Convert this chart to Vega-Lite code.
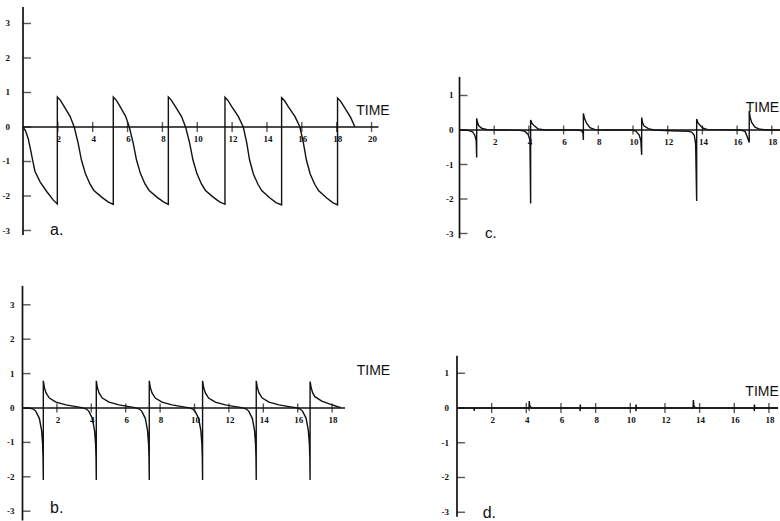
{
  "$schema": "https://vega.github.io/schema/vega-lite/v6.json",
  "padding": 0,
  "background": "white",
  "spacing": 0,
  "config": {"view": {"stroke": null}, "concat": {"spacing": 0}},
  "datasets": {
    "curveA": [
      {"t":0,"v":0},{"t":0.15,"v":-0.12},{"t":0.3,"v":-0.34},{"t":0.46,"v":-0.72},{"t":0.56,"v":-0.98},{"t":0.69,"v":-1.29},{"t":0.98,"v":-1.59},{"t":1.36,"v":-1.87},{"t":1.74,"v":-2.12},{"t":1.97,"v":-2.23},
      {"t":1.97,"v":0.87},{"t":2.14,"v":0.78},{"t":2.34,"v":0.61},{"t":2.7,"v":0.31},{"t":2.94,"v":0},{"t":3.16,"v":-0.46},{"t":3.35,"v":-0.95},{"t":3.58,"v":-1.35},{"t":3.84,"v":-1.65},{"t":4.07,"v":-1.84},{"t":4.53,"v":-2.04},{"t":4.88,"v":-2.17},{"t":5.18,"v":-2.24},
      {"t":5.18,"v":0.87},{"t":5.35,"v":0.78},{"t":5.55,"v":0.61},{"t":5.89,"v":0.31},{"t":6.1,"v":0},{"t":6.32,"v":-0.46},{"t":6.51,"v":-0.95},{"t":6.74,"v":-1.35},{"t":7.0,"v":-1.65},{"t":7.24,"v":-1.84},{"t":7.7,"v":-2.04},{"t":8.06,"v":-2.17},{"t":8.34,"v":-2.24},
      {"t":8.34,"v":0.87},{"t":8.51,"v":0.78},{"t":8.72,"v":0.61},{"t":9.09,"v":0.31},{"t":9.33,"v":0},{"t":9.56,"v":-0.46},{"t":9.75,"v":-0.95},{"t":9.98,"v":-1.35},{"t":10.24,"v":-1.65},{"t":10.47,"v":-1.84},{"t":10.93,"v":-2.04},{"t":11.28,"v":-2.17},{"t":11.59,"v":-2.24},
      {"t":11.59,"v":0.86},{"t":11.76,"v":0.77},{"t":11.97,"v":0.6},{"t":12.36,"v":0.3},{"t":12.64,"v":0},{"t":12.84,"v":-0.46},{"t":13.0,"v":-0.95},{"t":13.22,"v":-1.36},{"t":13.48,"v":-1.66},{"t":13.71,"v":-1.85},{"t":14.17,"v":-2.06},{"t":14.52,"v":-2.19},{"t":14.84,"v":-2.26},
      {"t":14.84,"v":0.85},{"t":15.01,"v":0.76},{"t":15.22,"v":0.59},{"t":15.61,"v":0.3},{"t":15.89,"v":0},{"t":16.09,"v":-0.46},{"t":16.26,"v":-0.95},{"t":16.48,"v":-1.36},{"t":16.74,"v":-1.66},{"t":16.97,"v":-1.85},{"t":17.43,"v":-2.06},{"t":17.77,"v":-2.19},{"t":18.05,"v":-2.26},
      {"t":18.05,"v":0.84},{"t":18.22,"v":0.75},{"t":18.43,"v":0.58},{"t":18.8,"v":0.28},{"t":19.05,"v":0}
    ],
    "curveB": [
      {"t":0,"v":0},{"t":0.45,"v":-0.01},{"t":0.63,"v":-0.03},{"t":0.77,"v":-0.09},{"t":0.98,"v":-0.3},{"t":1.11,"v":-0.66},{"t":1.17,"v":-1.05},{"t":1.195,"v":-1.45},{"t":1.21,"v":-2.09},
      {"t":1.21,"v":0.79},{"t":1.27,"v":0.6},{"t":1.37,"v":0.44},{"t":1.56,"v":0.29},{"t":1.95,"v":0.17},{"t":2.53,"v":0.09},{"t":3.11,"v":0.04},{"t":3.45,"v":0.01},{"t":3.6,"v":-0.01},{"t":3.71,"v":-0.03},{"t":3.85,"v":-0.09},{"t":4.06,"v":-0.3},{"t":4.19,"v":-0.66},{"t":4.25,"v":-1.05},{"t":4.275,"v":-1.45},{"t":4.29,"v":-2.09},
      {"t":4.29,"v":0.79},{"t":4.35,"v":0.6},{"t":4.45,"v":0.44},{"t":4.64,"v":0.29},{"t":5.03,"v":0.17},{"t":5.61,"v":0.09},{"t":6.19,"v":0.04},{"t":6.53,"v":0.01},{"t":6.68,"v":-0.01},{"t":6.79,"v":-0.03},{"t":6.93,"v":-0.09},{"t":7.14,"v":-0.3},{"t":7.27,"v":-0.66},{"t":7.33,"v":-1.05},{"t":7.355,"v":-1.45},{"t":7.37,"v":-2.09},
      {"t":7.37,"v":0.79},{"t":7.43,"v":0.6},{"t":7.53,"v":0.44},{"t":7.72,"v":0.29},{"t":8.11,"v":0.17},{"t":8.69,"v":0.09},{"t":9.27,"v":0.04},{"t":9.63,"v":0.01},{"t":9.78,"v":-0.01},{"t":9.89,"v":-0.03},{"t":10.03,"v":-0.09},{"t":10.24,"v":-0.3},{"t":10.37,"v":-0.66},{"t":10.43,"v":-1.05},{"t":10.455,"v":-1.45},{"t":10.47,"v":-2.09},
      {"t":10.47,"v":0.79},{"t":10.53,"v":0.6},{"t":10.63,"v":0.44},{"t":10.82,"v":0.29},{"t":11.21,"v":0.17},{"t":11.79,"v":0.09},{"t":12.37,"v":0.04},{"t":12.75,"v":0.01},{"t":12.9,"v":-0.01},{"t":13.01,"v":-0.03},{"t":13.15,"v":-0.09},{"t":13.36,"v":-0.3},{"t":13.49,"v":-0.66},{"t":13.55,"v":-1.05},{"t":13.575,"v":-1.45},{"t":13.59,"v":-2.09},
      {"t":13.59,"v":0.79},{"t":13.65,"v":0.6},{"t":13.75,"v":0.44},{"t":13.94,"v":0.29},{"t":14.33,"v":0.17},{"t":14.91,"v":0.09},{"t":15.49,"v":0.04},{"t":15.88,"v":0.01},{"t":16.03,"v":-0.01},{"t":16.14,"v":-0.03},{"t":16.28,"v":-0.09},{"t":16.49,"v":-0.3},{"t":16.62,"v":-0.66},{"t":16.68,"v":-1.05},{"t":16.705,"v":-1.45},{"t":16.72,"v":-2.09},
      {"t":16.72,"v":0.77},{"t":16.78,"v":0.6},{"t":16.87,"v":0.44},{"t":17.0,"v":0.33},{"t":17.4,"v":0.2},{"t":17.88,"v":0.11},{"t":18.37,"v":0.03},{"t":18.5,"v":0.02}
    ],
    "curveC": [
      {"t":0,"v":0},{"t":0.5,"v":-0.01},{"t":0.75,"v":-0.05},{"t":0.88,"v":-0.15},{"t":0.96,"v":-0.3},{"t":0.99,"v":-0.8},{"t":0.99,"v":0.34},{"t":1.03,"v":0.23},{"t":1.1,"v":0.13},{"t":1.28,"v":0.05},{"t":1.6,"v":0.01},{"t":2.5,"v":0},
      {"t":3.5,"v":-0.01},{"t":3.78,"v":-0.04},{"t":3.96,"v":-0.13},{"t":4.06,"v":-0.3},{"t":4.1,"v":-2.13},{"t":4.1,"v":0.29},{"t":4.17,"v":0.2},{"t":4.31,"v":0.12},{"t":4.54,"v":0.03},{"t":4.9,"v":0},
      {"t":6.8,"v":0},{"t":7.05,"v":-0.02},{"t":7.12,"v":-0.1},{"t":7.14,"v":-0.29},{"t":7.14,"v":0.48},{"t":7.2,"v":0.35},{"t":7.33,"v":0.19},{"t":7.52,"v":0.07},{"t":7.81,"v":0.01},{"t":8.5,"v":0},
      {"t":9.9,"v":0},{"t":10.17,"v":-0.03},{"t":10.36,"v":-0.15},{"t":10.45,"v":-0.3},{"t":10.5,"v":-0.72},{"t":10.5,"v":0.36},{"t":10.55,"v":0.22},{"t":10.63,"v":0.12},{"t":10.88,"v":0.04},{"t":11.2,"v":0},
      {"t":12.2,"v":-0.02},{"t":13.2,"v":-0.04},{"t":13.38,"v":-0.06},{"t":13.53,"v":-0.15},{"t":13.61,"v":-0.4},{"t":13.67,"v":-2.06},{"t":13.67,"v":0.32},{"t":13.73,"v":0.22},{"t":13.86,"v":0.14},{"t":14.05,"v":0.05},{"t":14.3,"v":0.01},
      {"t":16.2,"v":0},{"t":16.46,"v":-0.04},{"t":16.59,"v":-0.2},{"t":16.7,"v":-0.36},{"t":16.7,"v":0.55},{"t":16.75,"v":0.38},{"t":16.84,"v":0.22},{"t":17.03,"v":0.08},{"t":17.32,"v":0.02},{"t":17.7,"v":0},{"t":18.47,"v":0}
    ],
    "curveD": [
      {"t":0,"v":0},{"t":0.97,"v":0},{"t":1.0,"v":-0.08},{"t":1.02,"v":0},
      {"t":4.12,"v":0},{"t":4.15,"v":-0.03},{"t":4.17,"v":0.2},{"t":4.2,"v":0.06},{"t":4.3,"v":0},
      {"t":7.09,"v":0},{"t":7.11,"v":-0.09},{"t":7.11,"v":0.1},{"t":7.14,"v":0},
      {"t":10.31,"v":0},{"t":10.33,"v":-0.09},{"t":10.33,"v":0.1},{"t":10.36,"v":0},
      {"t":13.6,"v":0},{"t":13.62,"v":-0.03},{"t":13.64,"v":0.23},{"t":13.67,"v":0.06},{"t":13.75,"v":0},
      {"t":17.14,"v":0},{"t":17.16,"v":-0.09},{"t":17.16,"v":0.1},{"t":17.19,"v":0},{"t":18.52,"v":0}
    ],
    "xt20": [
      {"t":2,"v":0,"label":"2"},{"t":4,"v":0,"label":"4"},{"t":6,"v":0,"label":"6"},{"t":8,"v":0,"label":"8"},{"t":10,"v":0,"label":"10"},
      {"t":12,"v":0,"label":"12"},{"t":14,"v":0,"label":"14"},{"t":16,"v":0,"label":"16"},{"t":18,"v":0,"label":"18"},{"t":20,"v":0,"label":"20"}
    ],
    "xt18": [
      {"t":2,"v":0,"label":"2"},{"t":4,"v":0,"label":"4"},{"t":6,"v":0,"label":"6"},{"t":8,"v":0,"label":"8"},{"t":10,"v":0,"label":"10"},
      {"t":12,"v":0,"label":"12"},{"t":14,"v":0,"label":"14"},{"t":16,"v":0,"label":"16"},{"t":18,"v":0,"label":"18"}
    ],
    "yt7": [
      {"t":0,"v":3,"label":"3"},{"t":0,"v":2,"label":"2"},{"t":0,"v":1,"label":"1"},{"t":0,"v":0,"label":"0"},
      {"t":0,"v":-1,"label":"-1"},{"t":0,"v":-2,"label":"-2"},{"t":0,"v":-3,"label":"-3"}
    ],
    "yt5": [
      {"t":0,"v":1,"label":"1"},{"t":0,"v":0,"label":"0"},
      {"t":0,"v":-1,"label":"-1"},{"t":0,"v":-2,"label":"-2"},{"t":0,"v":-3,"label":"-3"}
    ]
  },
  "vconcat": [
    {
      "spacing": 0,
      "hconcat": [
        {
          "width": 390, "height": 260,
          "encoding": {
            "x": {"field": "t", "type": "quantitative", "scale": {"domain": [-1.32, 21.06], "nice": false, "zero": false}, "axis": null},
            "y": {"field": "v", "type": "quantitative", "scale": {"domain": [-3.855, 3.681], "nice": false, "zero": false}, "axis": null}
          },
          "layer": [
            {"data": {"values": [{"t":0,"v":-3.13,"t2":0,"v2":3.48},{"t":0,"v":0,"t2":20.4,"v2":0}]},
             "mark": {"type": "rule", "color": "#111", "strokeWidth": 1.7},
             "encoding": {"x2": {"field": "t2"}, "y2": {"field": "v2"}}},
            {"data": {"name": "xt20"}, "mark": {"type": "tick", "orient": "vertical", "size": 10, "thickness": 1.4, "color": "#111"}},
            {"data": {"name": "xt20"}, "mark": {"type": "text", "dy": 12, "dx": 1, "align": "center", "baseline": "middle", "font": "Liberation Serif", "fontWeight": "bold", "fontSize": 9, "color": "#111"}, "encoding": {"text": {"field": "label"}}},
            {"data": {"name": "yt7"}, "mark": {"type": "tick", "orient": "horizontal", "size": 8, "thickness": 1.4, "xOffset": 4, "color": "#111"}},
            {"data": {"name": "yt7"}, "mark": {"type": "text", "dx": -13, "align": "right", "baseline": "middle", "font": "Liberation Serif", "fontWeight": "bold", "fontSize": 9, "color": "#111"}, "encoding": {"text": {"field": "label"}}},
            {"data": {"name": "curveA"}, "mark": {"type": "line", "color": "#111", "strokeWidth": 1.4}, "encoding": {"order": {"value": null}}},
            {"data": {"values": [{"t":1.55,"v":-2.99,"label":"a."}]}, "mark": {"type": "text", "align": "left", "baseline": "middle", "font": "Liberation Sans", "fontSize": 16, "color": "#111"}, "encoding": {"text": {"field": "label"}}},
            {"data": {"values": [{"t":19.12,"v":0.47,"label":"TIME"}]}, "mark": {"type": "text", "align": "left", "baseline": "middle", "font": "Liberation Sans", "fontSize": 14, "color": "#111"}, "encoding": {"text": {"field": "label"}}}
          ]
        },
        {
          "width": 390, "height": 260,
          "encoding": {
            "x": {"field": "t", "type": "quantitative", "scale": {"domain": [-4.006, 18.473], "nice": false, "zero": false}, "axis": null},
            "y": {"field": "v", "type": "quantitative", "scale": {"domain": [-3.768, 3.768], "nice": false, "zero": false}, "axis": null}
          },
          "layer": [
            {"data": {"values": [{"t":0,"v":-3.14,"t2":0,"v2":1.54},{"t":0,"v":0,"t2":18.47,"v2":0}]},
             "mark": {"type": "rule", "color": "#111", "strokeWidth": 1.7},
             "encoding": {"x2": {"field": "t2"}, "y2": {"field": "v2"}}},
            {"data": {"name": "xt18"}, "mark": {"type": "tick", "orient": "vertical", "size": 9, "thickness": 1.4, "color": "#111"}},
            {"data": {"name": "xt18"}, "mark": {"type": "text", "dy": 12, "dx": 1, "align": "center", "baseline": "middle", "font": "Liberation Serif", "fontWeight": "bold", "fontSize": 9, "color": "#111"}, "encoding": {"text": {"field": "label"}}},
            {"data": {"name": "yt5"}, "mark": {"type": "tick", "orient": "horizontal", "size": 8, "thickness": 1.4, "xOffset": 4, "color": "#111"}},
            {"data": {"name": "yt5"}, "mark": {"type": "text", "dx": -6, "align": "right", "baseline": "middle", "font": "Liberation Serif", "fontWeight": "bold", "fontSize": 9, "color": "#111"}, "encoding": {"text": {"field": "label"}}},
            {"data": {"name": "curveC"}, "mark": {"type": "line", "color": "#111", "strokeWidth": 1.4}, "encoding": {"order": {"value": null}}},
            {"data": {"values": [{"t":1.47,"v":-2.98,"label":"c."}]}, "mark": {"type": "text", "align": "left", "baseline": "middle", "font": "Liberation Sans", "fontSize": 15, "color": "#111"}, "encoding": {"text": {"field": "label"}}},
            {"data": {"values": [{"t":16.5,"v":0.64,"label":"TIME"}]}, "mark": {"type": "text", "align": "left", "baseline": "middle", "font": "Liberation Sans", "fontSize": 14, "color": "#111"}, "encoding": {"text": {"field": "label"}}}
          ]
        }
      ]
    },
    {
      "spacing": 0,
      "hconcat": [
        {
          "width": 390, "height": 261,
          "encoding": {
            "x": {"field": "t", "type": "quantitative", "scale": {"domain": [-1.308, 21.366], "nice": false, "zero": false}, "axis": null},
            "y": {"field": "v", "type": "quantitative", "scale": {"domain": [-3.285, 4.302], "nice": false, "zero": false}, "axis": null}
          },
          "layer": [
            {"data": {"values": [{"t":0,"v":-3.27,"t2":0,"v2":3.55},{"t":0,"v":0,"t2":18.75,"v2":0}]},
             "mark": {"type": "rule", "color": "#111", "strokeWidth": 1.7},
             "encoding": {"x2": {"field": "t2"}, "y2": {"field": "v2"}}},
            {"data": {"name": "xt18"}, "mark": {"type": "tick", "orient": "vertical", "size": 9, "thickness": 1.4, "color": "#111"}},
            {"data": {"name": "xt18"}, "mark": {"type": "text", "dy": 12, "dx": 1, "align": "center", "baseline": "middle", "font": "Liberation Serif", "fontWeight": "bold", "fontSize": 9, "color": "#111"}, "encoding": {"text": {"field": "label"}}},
            {"data": {"name": "yt7"}, "mark": {"type": "tick", "orient": "horizontal", "size": 8, "thickness": 1.4, "xOffset": 4, "color": "#111"}},
            {"data": {"name": "yt7"}, "mark": {"type": "text", "dx": -8, "align": "right", "baseline": "middle", "font": "Liberation Serif", "fontWeight": "bold", "fontSize": 9, "color": "#111"}, "encoding": {"text": {"field": "label"}}},
            {"data": {"name": "curveB"}, "mark": {"type": "line", "color": "#111", "strokeWidth": 1.4}, "encoding": {"order": {"value": null}}},
            {"data": {"values": [{"t":1.6,"v":-2.92,"label":"b."}]}, "mark": {"type": "text", "align": "left", "baseline": "middle", "font": "Liberation Sans", "fontSize": 16, "color": "#111"}, "encoding": {"text": {"field": "label"}}},
            {"data": {"values": [{"t":19.43,"v":1.07,"label":"TIME"}]}, "mark": {"type": "text", "align": "left", "baseline": "middle", "font": "Liberation Sans", "fontSize": 14, "color": "#111"}, "encoding": {"text": {"field": "label"}}}
          ]
        },
        {
          "width": 390, "height": 261,
          "encoding": {
            "x": {"field": "t", "type": "quantitative", "scale": {"domain": [-3.808, 18.696], "nice": false, "zero": false}, "axis": null},
            "y": {"field": "v", "type": "quantitative", "scale": {"domain": [-3.252, 4.259], "nice": false, "zero": false}, "axis": null}
          },
          "layer": [
            {"data": {"values": [{"t":0,"v":-3.13,"t2":0,"v2":1.5},{"t":0,"v":0,"t2":18.52,"v2":0}]},
             "mark": {"type": "rule", "color": "#111", "strokeWidth": 1.7},
             "encoding": {"x2": {"field": "t2"}, "y2": {"field": "v2"}}},
            {"data": {"name": "xt18"}, "mark": {"type": "tick", "orient": "vertical", "size": 10, "thickness": 1.4, "color": "#111"}},
            {"data": {"name": "xt18"}, "mark": {"type": "text", "dy": 12, "dx": 1, "align": "center", "baseline": "middle", "font": "Liberation Serif", "fontWeight": "bold", "fontSize": 9, "color": "#111"}, "encoding": {"text": {"field": "label"}}},
            {"data": {"name": "yt5"}, "mark": {"type": "tick", "orient": "horizontal", "size": 8, "thickness": 1.4, "xOffset": 4, "color": "#111"}},
            {"data": {"name": "yt5"}, "mark": {"type": "text", "dx": -8, "align": "right", "baseline": "middle", "font": "Liberation Serif", "fontWeight": "bold", "fontSize": 9, "color": "#111"}, "encoding": {"text": {"field": "label"}}},
            {"data": {"name": "curveD"}, "mark": {"type": "line", "color": "#111", "strokeWidth": 1.4}, "encoding": {"order": {"value": null}}},
            {"data": {"values": [{"t":1.48,"v":-3.01,"label":"d."}]}, "mark": {"type": "text", "align": "left", "baseline": "middle", "font": "Liberation Sans", "fontSize": 16, "color": "#111"}, "encoding": {"text": {"field": "label"}}},
            {"data": {"values": [{"t":16.64,"v":0.47,"label":"TIME"}]}, "mark": {"type": "text", "align": "left", "baseline": "middle", "font": "Liberation Sans", "fontSize": 14, "color": "#111"}, "encoding": {"text": {"field": "label"}}}
          ]
        }
      ]
    }
  ]
}
